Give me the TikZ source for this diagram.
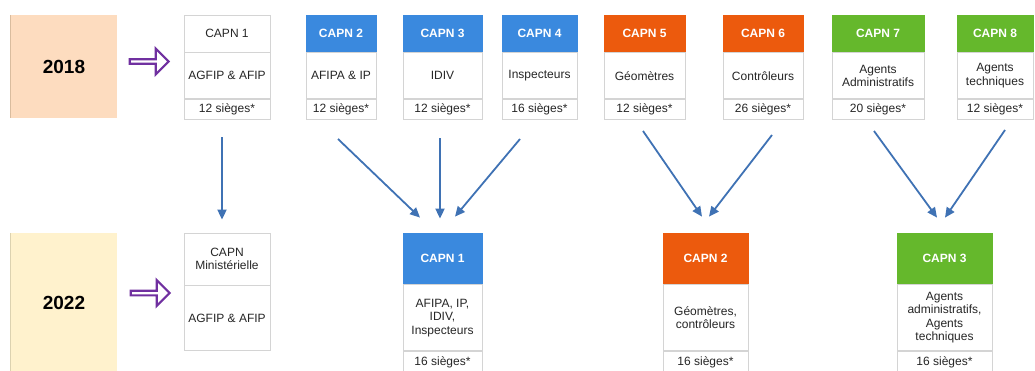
\documentclass[tikz,border=0pt]{standalone}
\usepackage{fontspec}
\setmainfont{Liberation Sans}
\usetikzlibrary{arrows.meta,positioning,shapes.arrows}
\definecolor{capblue}{HTML}{3A89DE}
\definecolor{caporange}{HTML}{EC5A0D}
\definecolor{capgreen}{HTML}{65B82C}
\definecolor{cellgray}{HTML}{D4D4D4}
\definecolor{txtgray}{HTML}{262626}
\definecolor{peach}{HTML}{FDDCBF}
\definecolor{cream}{HTML}{FFF2CD}
\definecolor{peachedge}{HTML}{D9BC9E}
\definecolor{creamedge}{HTML}{DCD2B0}
\definecolor{arrowpurple}{HTML}{7030A0}
\definecolor{linkblue}{HTML}{3F72B4}

\begin{document}
\begin{tikzpicture}[
  x=1pt, y=-1pt,
  cell/.style={draw=cellgray, line width=0.8pt, fill=white, align=center, inner sep=0pt,
               text=txtgray, font=\fontsize{12}{13.5}\selectfont},
  capnhead/.style={cell, draw=#1, fill=#1, text=white, font=\fontsize{12}{13.5}\selectfont\bfseries},
  hdtop/.style={capnhead=#1, minimum height=37pt},
  bdtop/.style={cell, minimum height=46pt},
  sttop/.style={cell, minimum height=20pt},
  hdbot/.style={capnhead=#1, minimum height=51pt},
  bdbot/.style={cell, minimum height=66pt},
  stbot/.style={cell, minimum height=22pt},
  yearbox/.style={minimum width=106pt, inner sep=0pt, text=black,
                  font=\fontsize{19}{22}\selectfont\bfseries},
  bigarrow/.style={single arrow, draw=arrowpurple, line width=2.2pt, minimum height=39pt,
                   minimum width=26pt, single arrow head extend=5pt, inner sep=0pt},
  mergearrow/.style={-{Triangle[length=10pt,width=9pt]}, line width=1.8pt, linkblue}
]
\useasboundingbox (0,0) rectangle (1035,370);

% Years
\node[yearbox, fill=peach, minimum height=103pt] (y18) at (64,66.5) {2018};
\draw[peachedge, line width=1.2pt] (y18.north west) -- (y18.south west);
\node[yearbox, fill=cream, minimum height=139pt] (y22) at (64,302.5) {2022};
\draw[creamedge, line width=1.2pt] (y22.north west) -- (y22.south west);

\node[bigarrow] (a18) at (148,61.5) {};
\node[bigarrow] (a22) at (149,293) {};

% 2018 commissions
\node[cell, minimum width=86pt, minimum height=37pt] (h1) at (227,33.5) {CAPN 1};
\node[bdtop, minimum width=86pt, below=0pt of h1] (b1) {AGFIP \& AFIP};
\node[sttop, minimum width=86pt, below=0pt of b1] (s1) {12 sièges*};

\node[hdtop=capblue, minimum width=70pt] (h2) at (341,33.5) {CAPN 2};
\node[bdtop, minimum width=70pt, below=0pt of h2] (b2) {AFIPA \& IP};
\node[sttop, minimum width=70pt, below=0pt of b2] (s2) {12 sièges*};

\node[hdtop=capblue, minimum width=79pt] (h3) at (442.5,33.5) {CAPN 3};
\node[bdtop, minimum width=79pt, below=0pt of h3] (b3) {IDIV};
\node[sttop, minimum width=79pt, below=0pt of b3] (s3) {12 sièges*};

\node[hdtop=capblue, minimum width=75pt] (h4) at (539.5,33.5) {CAPN 4};
\node[bdtop, minimum width=75pt, below=0pt of h4] (b4) {Inspecteurs};
\node[sttop, minimum width=75pt, below=0pt of b4] (s4) {16 sièges*};

\node[hdtop=caporange, minimum width=81pt] (h5) at (644.5,33.5) {CAPN 5};
\node[bdtop, minimum width=81pt, below=0pt of h5] (b5) {Géomètres};
\node[sttop, minimum width=81pt, below=0pt of b5] (s5) {12 sièges*};

\node[hdtop=caporange, minimum width=80pt] (h6) at (763,33.5) {CAPN 6};
\node[bdtop, minimum width=80pt, below=0pt of h6] (b6) {Contrôleurs};
\node[sttop, minimum width=80pt, below=0pt of b6] (s6) {26 sièges*};

\node[hdtop=capgreen, minimum width=92pt] (h7) at (878,33.5) {CAPN 7};
\node[bdtop, minimum width=92pt, below=0pt of h7] (b7) {Agents\\Administratifs};
\node[sttop, minimum width=92pt, below=0pt of b7] (s7) {20 sièges*};

\node[hdtop=capgreen, minimum width=76pt] (h8) at (995,33.5) {CAPN 8};
\node[bdtop, minimum width=76pt, below=0pt of h8] (b8) {Agents\\techniques};
\node[sttop, minimum width=76pt, below=0pt of b8] (s8) {12 sièges*};

% 2022 commissions
\node[cell, minimum width=86pt, minimum height=52pt] (mh) at (227,259) {CAPN\\Ministérielle};
\node[cell, minimum width=86pt, minimum height=65pt, below=0pt of mh] (mb) {AGFIP \& AFIP};

\node[hdbot=capblue, minimum width=79pt] (n1) at (442.5,258.5) {CAPN 1};
\node[bdbot, minimum width=79pt, below=0pt of n1] (c1) {AFIPA, IP,\\IDIV,\\Inspecteurs};
\node[stbot, minimum width=79pt, below=0pt of c1] (t1) {16 sièges*};

\node[hdbot=caporange, minimum width=85pt] (n2) at (705.5,258.5) {CAPN 2};
\node[bdbot, minimum width=85pt, below=0pt of n2] (c2) {Géomètres,\\contrôleurs};
\node[stbot, minimum width=85pt, below=0pt of c2] (t2) {16 sièges*};

\node[hdbot=capgreen, minimum width=95pt] (n3) at (944.5,258.5) {CAPN 3};
\node[bdbot, minimum width=95pt, below=0pt of n3] (c3) {Agents\\administratifs,\\Agents\\techniques};
\node[stbot, minimum width=95pt, below=0pt of c3] (t3) {16 sièges*};

% Mergers
\draw[mergearrow] ([shift={(-5,17)}]s1.south) -- ([shift={(-5,-13)}]mh.north);
\draw[mergearrow] ([shift={(-3,19)}]s2.south) -- ([shift={(-22.5,-15)}]n1.north);
\draw[mergearrow] ([shift={(-2.5,18)}]s3.south) -- ([shift={(-2.5,-14)}]n1.north);
\draw[mergearrow] ([shift={(-19.5,19)}]s4.south) -- ([shift={(12.5,-16)}]n1.north);
\draw[mergearrow] ([shift={(-1.5,11)}]s5.south) -- ([shift={(-3.5,-16)}]n2.north);
\draw[mergearrow] ([shift={(9,15)}]s6.south) -- ([shift={(3.5,-16)}]n2.north);
\draw[mergearrow] ([shift={(-4,11)}]s7.south) -- ([shift={(-7.5,-15)}]n3.north);
\draw[mergearrow] ([shift={(10,10)}]s8.south) -- ([shift={(0.5,-15)}]n3.north);

\end{tikzpicture}
\end{document}
